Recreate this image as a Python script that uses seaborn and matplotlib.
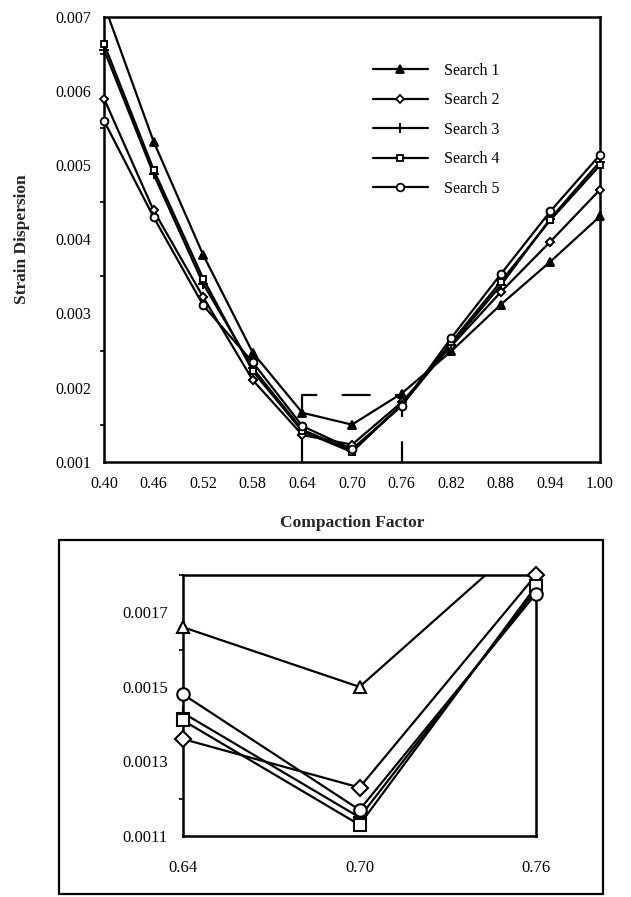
import matplotlib
matplotlib.use("Agg")
import matplotlib.pyplot as plt
import matplotlib.ticker as mticker
from matplotlib.patches import Rectangle
import seaborn as sns
import numpy as np

sns.set_theme(style="white")
plt.rcParams['font.family'] = ['Liberation Serif', 'DejaVu Serif']

# ---------------- data ----------------
compaction = [0.40, 0.46, 0.52, 0.58, 0.64, 0.70, 0.76, 0.82, 0.88, 0.94, 1.00]
search1 = [0.00717, 0.00532, 0.00379, 0.00247, 0.00166, 0.00150, 0.00192, 0.00249, 0.00312, 0.00370, 0.00431]
search2 = [0.00590, 0.00439, 0.00322, 0.00210, 0.00136, 0.00123, 0.00180, 0.00256, 0.00329, 0.00397, 0.00467]
search3 = [0.00656, 0.00488, 0.00340, 0.00226, 0.00143, 0.00115, 0.00176, 0.00258, 0.00338, 0.00428, 0.00505]
search4 = [0.00664, 0.00494, 0.00347, 0.00222, 0.00141, 0.00113, 0.00177, 0.00261, 0.00343, 0.00426, 0.00500]
search5 = [0.00560, 0.00430, 0.00311, 0.00234, 0.00148, 0.00117, 0.00175, 0.00267, 0.00353, 0.00438, 0.00514]
labels = ["Search 1", "Search 2", "Search 3", "Search 4", "Search 5"]
series = [search1, search2, search3, search4, search5]
markers = ["^", "D", "+", "s", "o"]

main_xticks = [0.40, 0.46, 0.52, 0.58, 0.64, 0.70, 0.76, 0.82, 0.88, 0.94, 1.00]
main_yticks = [0.001, 0.002, 0.003, 0.004, 0.005, 0.006, 0.007]
zoom_xticks = [0.64, 0.70, 0.76]
zoom_yticks = [0.0011, 0.0013, 0.0015, 0.0017]
zoom_ylim = (0.0011, 0.0018)
box_top = 0.0019

W, H = 631, 897
fig = plt.figure(figsize=(W / 100, H / 100), dpi=100)

def frac(x0, y0, x1, y1):
    return [x0 / W, 1 - y1 / H, (x1 - x0) / W, (y1 - y0) / H]

ax = fig.add_axes(frac(104, 17, 600, 461.7))
axz = fig.add_axes(frac(183, 575, 536, 836))

main_ylim = (main_yticks[0], main_yticks[-1])
main_xlim = (main_xticks[0], main_xticks[-1])
zoom_xlim = (zoom_xticks[0], zoom_xticks[-1])

def visible(xs, ys, xlim, ylim):
    xs = np.asarray(xs); ys = np.asarray(ys)
    m = (xs >= xlim[0] - 1e-9) & (xs <= xlim[1] + 1e-9) & \
        (ys >= ylim[0] - 1e-9) & (ys <= ylim[1] + 1e-9)
    return xs[m], ys[m]

lw = 1.6
ms_main = {"^": 5.5, "D": 4.5, "+": 6.5, "s": 5, "o": 5.5}
ms_zoom = {"^": 8.5, "D": 8, "+": 10, "s": 8, "o": 9}
for lab, vals, m in zip(labels, series, markers):
    fc = "black" if m == "^" else "white"
    # main plot: clipped line (with legend handle), then unclipped markers
    sns.lineplot(x=compaction, y=vals, ax=ax, color="black", lw=lw, marker=m,
                 markersize=ms_main[m], markerfacecolor=fc,
                 markeredgecolor="black", markeredgewidth=1.3, label=lab)
    vx, vy = visible(compaction, vals, main_xlim, main_ylim)
    sns.lineplot(x=vx, y=vy, ax=ax, color="black", linestyle="none", marker=m,
                 markersize=ms_main[m], markerfacecolor=fc,
                 markeredgecolor="black", markeredgewidth=1.3, legend=False,
                 clip_on=False, zorder=5)
    # zoom plot
    sns.lineplot(x=compaction, y=vals, ax=axz, color="black", lw=lw,
                 legend=False)
    zx, zy = visible(compaction, vals, zoom_xlim, zoom_ylim)
    sns.lineplot(x=zx, y=zy, ax=axz, color="black", linestyle="none", marker=m,
                 markersize=ms_zoom[m], markerfacecolor="white",
                 markeredgecolor="black", markeredgewidth=1.5, legend=False,
                 clip_on=False, zorder=5)

# dashed zoom box
ax.plot([zoom_xlim[0], zoom_xlim[0], zoom_xlim[1], zoom_xlim[1]],
        [main_ylim[0], box_top, box_top, main_ylim[0]],
        color="black", lw=1.6, linestyle=(0, (13, 11)), zorder=1)

# main axes styling
ax.set_xlim(*main_xlim)
ax.set_ylim(*main_ylim)
ax.set_xticks(main_xticks)
ax.set_xticklabels([f"{v:.2f}" for v in main_xticks])
ax.set_yticks(main_yticks)
ax.set_yticklabels([f"{v:.3f}" for v in main_yticks])
ax.yaxis.set_minor_locator(mticker.MultipleLocator(0.0005))
ax.tick_params(axis="both", which="major", labelsize=11.5, length=5, width=1.5,
               direction="out", color="black", labelcolor="black", pad=4.5)
ax.tick_params(axis="y", which="minor", length=3, width=1.2, direction="out",
               left=True, color="black")
ax.tick_params(axis="x", which="major", direction="inout", length=7, pad=7)
for s in ax.spines.values():
    s.set_color("black")
    s.set_linewidth(1.8)
ax.set_xlabel("Compaction Factor", fontsize=12.5, fontweight="bold", labelpad=16)
ax.set_ylabel("Strain Dispersion", fontsize=12.5, fontweight="bold", labelpad=18)

leg = ax.legend(loc="upper left", bbox_to_anchor=(0.53, 0.912), frameon=False,
                fontsize=11.5, handlelength=3.4, handletextpad=1.0,
                labelspacing=0.85, borderaxespad=0)
for t in leg.get_texts():
    t.set_color("black")

# zoom axes styling
axz.set_xlim(*zoom_xlim)
axz.set_ylim(*zoom_ylim)
axz.set_xticks(zoom_xticks)
axz.set_xticklabels([f"{v:.2f}" for v in zoom_xticks])
axz.set_yticks(zoom_yticks)
axz.set_yticklabels([f"{v:.4f}" for v in zoom_yticks])
axz.yaxis.set_minor_locator(mticker.MultipleLocator(0.0001))
axz.tick_params(axis="both", which="major", labelsize=12, length=6, width=1.5,
                direction="out", color="black", labelcolor="black", pad=5)
axz.tick_params(axis="x", which="major", pad=11)
axz.tick_params(axis="y", which="minor", length=3, width=1.2, direction="out",
                left=True, color="black")
for s in axz.spines.values():
    s.set_color("black")
    s.set_linewidth(1.8)
axz.set_xlabel("")
axz.set_ylabel("")

# outer frame around the inset
fig.patches.append(Rectangle((59 / W, 1 - 894 / H), (603 - 59) / W, (894 - 540) / H,
                             transform=fig.transFigure, fill=False,
                             edgecolor="black", linewidth=1.6))

fig.savefig("out.png", dpi=100, facecolor="white")
